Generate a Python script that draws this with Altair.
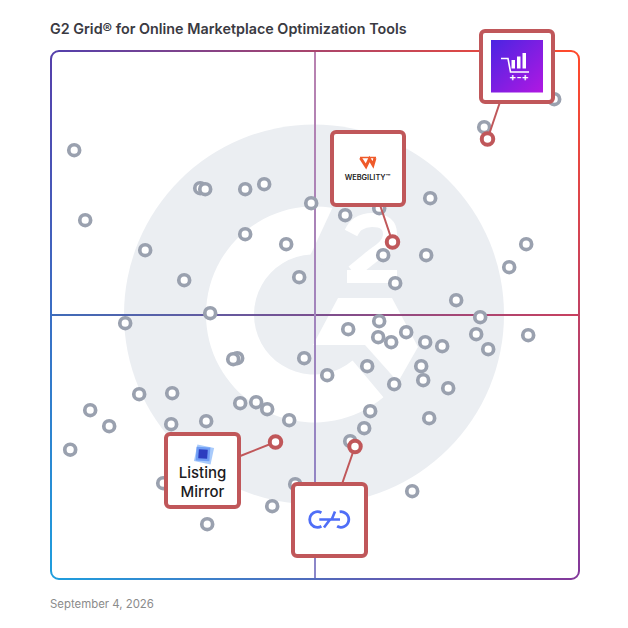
import math
import altair as alt
import pandas as pd

TITLE = "G2 Grid® for Online Marketplace Optimization Tools"
DATE = "September 4, 2026"

# Positions, on the grid's own scale
other_x = [74, 85, 145, 125, 90, 109, 70, 139, 172, 171, 184, 200, 205, 245, 264, 245, 286, 311, 299, 210,
           237, 233, 240, 256, 267, 289, 206, 163, 207, 272, 295, 304, 327, 345, 379, 383, 426, 430, 395,
           456, 480, 476, 488, 509, 526, 528, 484, 554, 379, 348, 378, 391, 406, 425, 442, 421, 423, 448,
           394, 367, 370, 364, 429, 350, 412]
other_y = [150, 220, 250, 323, 410, 426, 449.5, 394, 393, 424, 280, 188, 189, 189, 184, 234, 244, 203, 277, 313,
           358, 359, 403, 402, 409, 420, 421, 483, 524, 506, 484, 358, 375, 215, 208, 255, 255, 198, 283,
           300, 317, 334, 349, 267, 244, 335, 127, 99, 321, 329, 337, 342, 332, 342, 346, 366, 380, 388,
           384, 366, 411, 428, 418, 441, 491]
featured_x = [487.5, 392.5, 275.5, 355]
featured_y = [139, 242, 442, 446.5]
box_left = [481, 332, 166, 293]
box_right = [553, 404, 239, 366]
box_top = [31, 132, 434, 484]
box_bottom = [102, 205, 507, 556]
link_x = [500, 380, 239, 342]
link_y = [102, 205, 456.5, 484]

L, R, T, B = 51, 579, 51, 579
MID = 315
CX, CY = 314, 314.5

xs = alt.Scale(domain=[L, R], nice=False, zero=False)
ys = alt.Scale(domain=[B, T], nice=False, zero=False)
X = alt.X("x:Q", scale=xs, axis=None)
Y = alt.Y("y:Q", scale=ys, axis=None)
X2 = alt.X2("x2:Q")
Y2 = alt.Y2("y2:Q")
GREY = "#ebeef2"
RED = "#c0575a"
CHAIN = "#4f6ef7"


def grad(c1, c2, horizontal=True, mid=None):
    stops = [alt.GradientStop(color=c1, offset=0)]
    if mid:
        stops.append(alt.GradientStop(color=mid, offset=0.5))
    stops.append(alt.GradientStop(color=c2, offset=1))
    return alt.Gradient(gradient="linear", stops=stops, x1=0, y1=0, x2=1 if horizontal else 0, y2=0 if horizontal else 1)


def rect(x, x2, y, y2, **kw):
    return alt.Chart(pd.DataFrame({"x": [x], "x2": [x2], "y": [y], "y2": [y2]})).mark_rect(**kw).encode(
        x=X, x2=X2, y=Y, y2=Y2)


def arc(x, y, r0, r1, a0, a1, color):
    return alt.Chart(pd.DataFrame({"x": [x], "y": [y]})).mark_arc(
        radius=r1, radius2=r0, theta=math.radians(a0), theta2=math.radians(a1), color=color
    ).encode(x=X, y=Y)


def path(xv, yv, color, width, interp="linear", cap="butt"):
    d = pd.DataFrame({"x": xv, "y": yv, "o": range(len(xv))})
    return alt.Chart(d).mark_line(color=color, strokeWidth=width, interpolate=interp, strokeCap=cap).encode(
        x=X, y=Y, order="o:O")


def text(x, y, s, size, color, weight=400, align="left", font="Inter", **kw):
    return alt.Chart(pd.DataFrame({"x": [x], "y": [y], "t": [s]})).mark_text(
        fontSize=size, color=color, fontWeight=weight, align=align, baseline="alphabetic", font=font, **kw
    ).encode(x=X, y=Y, text="t:N")


def square(x, y, size, color, angle):
    return alt.Chart(pd.DataFrame({"x": [x], "y": [y]})).mark_point(
        shape="square", size=size, filled=True, color=color, opacity=1, angle=angle).encode(x=X, y=Y)


TL, TR, BL, BR = "#5540ab", "#ff4a2c", "#1f9ddd", "#83399b"
r = 8
layers = [
    # G2 emblem behind the grid
    arc(CX, CY, 0, 190, 0, 360, GREY),
    arc(CX, CY, 60, 108, 140, 372, "white"),
    path([344, 316], [202, 262], GREY, 16),
    path([351, 358, 372, 386, 390, 385, 370, 353], [233, 224, 220, 224, 235, 246, 258, 272], "white", 14, "cardinal"),
    rect(347, 397, 270, 283, fill="white"),
    alt.Chart(pd.DataFrame({"x": [313, 338, 365, 392, 398, 418], "y": [345, 298, 298, 298, 309.3, 347],
                            "y2": [345, 345, 345, 375.3, 382, 347]})).mark_area(color="white", opacity=1).encode(
        x=X, y=Y, y2=Y2),
    # quadrant lines
    rect(L, R, MID - 1, MID + 1, fill=grad("#3f6cb9", "#c9405f", mid="#7a4f90")),
    rect(MID - 1, MID + 1, T, B, fill=grad("#b982b0", "#8a86c9", horizontal=False)),
    # frame
    rect(L + r, R - r, T - 1, T + 1, fill=grad(TL, TR)),
    rect(L + r, R - r, B - 1, B + 1, fill=grad(BL, BR)),
    rect(L - 1, L + 1, T + r, B - r, fill=grad(TL, BL, horizontal=False)),
    rect(R - 1, R + 1, T + r, B - r, fill=grad(TR, BR, horizontal=False)),
    arc(L + r, T + r, r - 1, r + 1, 270, 360, TL),
    arc(R - r, T + r, r - 1, r + 1, 0, 90, TR),
    arc(R - r, B - r, r - 1, r + 1, 90, 180, BR),
    arc(L + r, B - r, r - 1, r + 1, 180, 270, BL),
    # vendors
    alt.Chart(pd.DataFrame({"x": other_x, "y": other_y})).mark_point(
        shape="circle", size=118, filled=False, fill="white", fillOpacity=1, stroke="#9aa1af", strokeWidth=3.7,
        opacity=1, xOffset=0.2, yOffset=0.2
    ).encode(x=X, y=Y),
    alt.Chart(pd.DataFrame({"x": featured_x, "x2": link_x, "y": featured_y, "y2": link_y})).mark_rule(
        color=RED, strokeWidth=2).encode(x=X, x2=X2, y=Y, y2=Y2),
    alt.Chart(pd.DataFrame({"x": featured_x, "y": featured_y})).mark_point(
        shape="circle", size=132, filled=False, fill="white", fillOpacity=1, stroke=RED, strokeWidth=4, opacity=1
    ).encode(x=X, y=Y),
    alt.Chart(pd.DataFrame({"x": box_left, "x2": box_right, "y": box_top, "y2": box_bottom})).mark_rect(
        fill="white", stroke=RED, strokeWidth=4, cornerRadius=4).encode(x=X, x2=X2, y=Y, y2=Y2),
    # cart logo
    rect(491, 543, 40, 92.5, fill=alt.Gradient(gradient="linear", x1=0, y1=0, x2=1, y2=1, stops=[
        alt.GradientStop(color="#4a25e2", offset=0), alt.GradientStop(color="#b118e2", offset=1)])),
    path([501, 508, 510.5, 529], [58.5, 58.5, 72, 72], "white", 1.6),
    rect(511.5, 515, 60, 68.5, fill="white"),
    rect(517, 520.5, 56.5, 68.5, fill="white"),
    rect(522.5, 526, 53, 68.5, fill="white"),
    text(519, 81, "+-+", 11, "white", 600, "center"),
    # Webgility logo
    path([360.5, 366, 369.5, 373, 375], [158, 166.5, 159, 165, 158], "#ef5a2a", 3),
    path([360, 376], [157.5, 157.5], "#ef5a2a", 1.5),
    text(367.5, 180, "WEBGILITY™", 7.4, "#222222", 600, "center"),
    # Listing Mirror logo
    square(204, 454.5, 290, "#a9cbfb", 12),
    square(203, 454, 190, "#6f9df4", 4),
    square(203, 454, 80, "#2c3dbf", 4),
    text(202.5, 478, "Listing", 15, "#1b1b22", 500, "center"),
    text(202.5, 496.5, "Mirror", 15, "#1b1b22", 500, "center"),
    # chain logo
    arc(317.5, 519.5, 6.4, 9.2, 150, 390, CHAIN),
    arc(341, 519.5, 6.4, 9.2, 350, 570, CHAIN),
    path([319.3, 330, 324], [519.5, 519.5, 527.5], CHAIN, 2.6),
    path([340, 331.7, 335], [519.5, 519.5, 511.5], CHAIN, 2.6),
    # titles
    text(50, 34, TITLE, 14.35, "#3a3a42", 600),
    text(50, 608, DATE, 11.4, "#8b8b8b", 400),
]

chart = alt.layer(*layers).resolve_scale(x="shared", y="shared").properties(
    width=528, height=528, autosize="none",
    padding={"left": 43, "top": 43, "right": 41, "bottom": 41},
).configure_view(stroke=None)

chart.save("out.html", embed_options={"renderer": "svg", "actions": False})
